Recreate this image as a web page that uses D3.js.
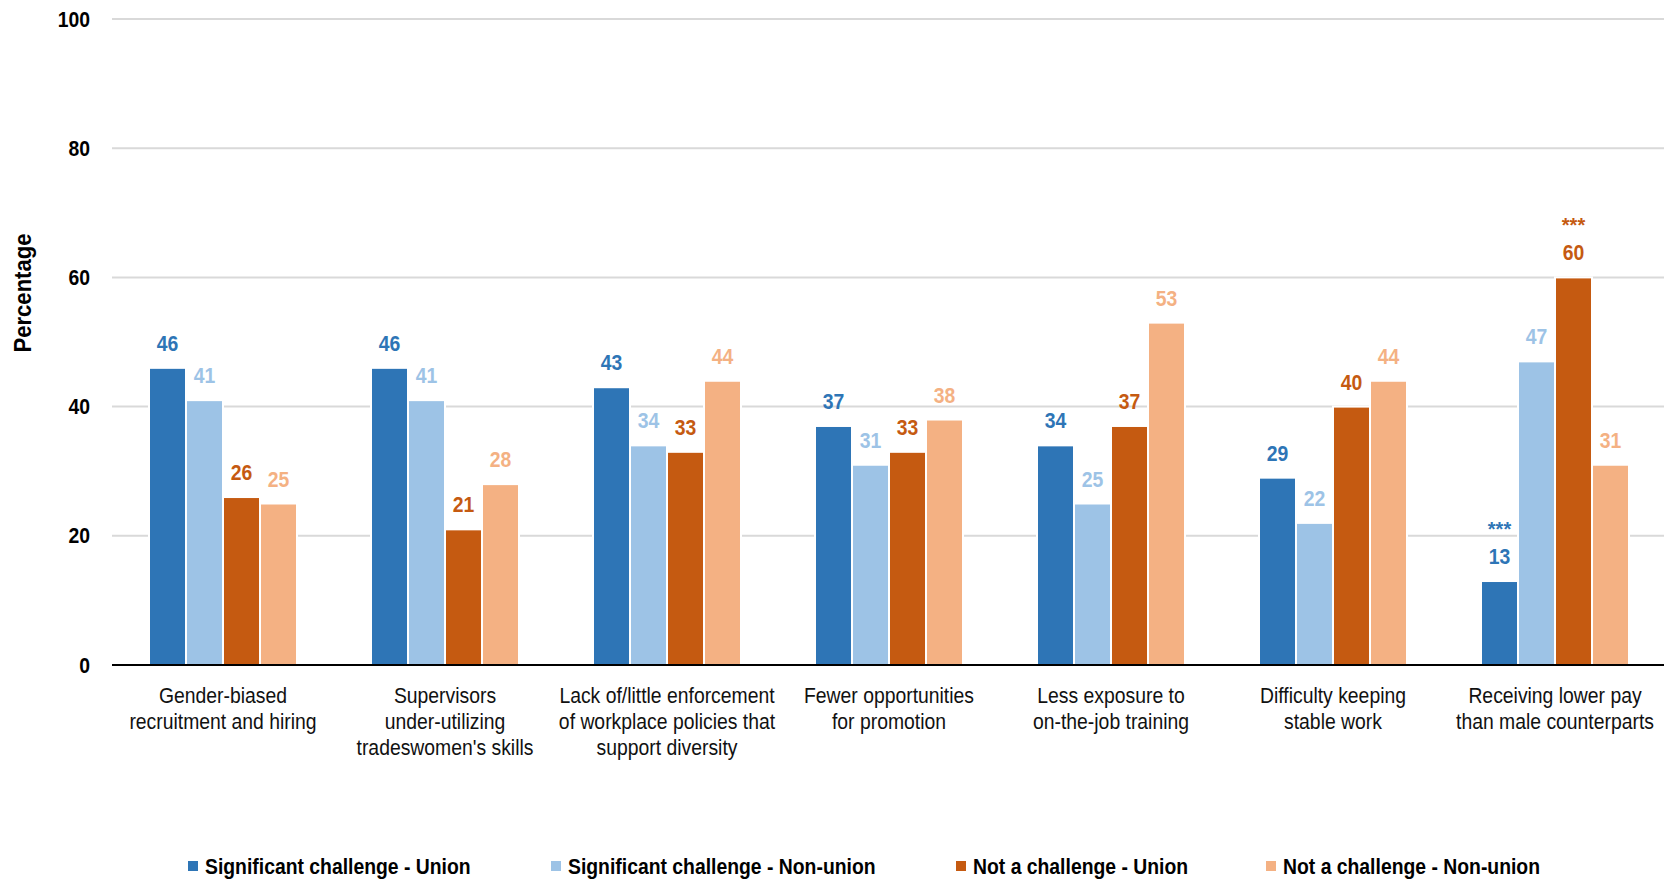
<!DOCTYPE html>
<html>
<head>
<meta charset="utf-8">
<script src="https://cdn.jsdelivr.net/npm/d3@7"></script>
<style>
  body { margin: 0; background: #fff; }
  text { font-family: "Liberation Sans Narrow", "Arial Narrow", "Liberation Sans", sans-serif; }
</style>
</head>
<body>
<div id="mychart"></div>
<script>
// chart data
var categories = [
  ["Gender-biased", "recruitment and hiring"],
  ["Supervisors", "under-utilizing", "tradeswomen's skills"],
  ["Lack of/little enforcement", "of workplace policies that", "support diversity"],
  ["Fewer opportunities", "for promotion"],
  ["Less exposure to", "on-the-job training"],
  ["Difficulty keeping", "stable work"],
  ["Receiving lower pay", "than male counterparts"]
];
var seriesNames = [
  "Significant challenge - Union",
  "Significant challenge - Non-union",
  "Not a challenge - Union",
  "Not a challenge - Non-union"
];
var sigUnion    = [46, 46, 43, 37, 34, 29, 13];
var sigNonUnion = [41, 41, 34, 31, 25, 22, 47];
var notUnion    = [26, 21, 33, 33, 37, 40, 60];
var notNonUnion = [25, 28, 44, 38, 53, 44, 31];
// significance markers (category index, series index)
var starMarks = [[6, 0], [6, 2]];
var yTicks = [0, 20, 40, 60, 80, 100];

var colors = ["#2E75B6", "#9DC3E6", "#C55A11", "#F4B183"];
var seriesValues = [sigUnion, sigNonUnion, notUnion, notNonUnion];

var W = 1665, H = 880;
var margin = {left: 112, right: 0, top: 19, bottom: 215};
var squeeze = 0.88; // no narrow font installed, so squeeze text horizontally

var svg = d3.select("#mychart")
  .append("svg")
    .attr("width", W)
    .attr("height", H);

var y = d3.scaleLinear().domain([0, 100]).range([H - margin.bottom, margin.top]);
var x0 = d3.scaleBand()
  .domain(d3.range(categories.length))
  .range([margin.left, margin.left + 222 * categories.length])
  .padding(0);
var slot = 37;
var x1 = d3.scaleBand()
  .domain(d3.range(seriesNames.length))
  .range([(x0.bandwidth() - slot * 4) / 2, (x0.bandwidth() + slot * 4) / 2]);

function place(x, y) {
  return "translate(" + x + "," + y + ") scale(" + squeeze + ",1)";
}

// gridlines
svg.append("g")
  .selectAll("line")
  .data(yTicks.filter(function(d) { return d > 0; }))
  .enter().append("line")
    .attr("x1", margin.left)
    .attr("x2", W - 1)
    .attr("y1", function(d) { return y(d); })
    .attr("y2", function(d) { return y(d); })
    .attr("stroke", "#d9d9d9")
    .attr("stroke-width", 2);

// y axis labels
var yAxis = d3.axisLeft(y).tickValues(yTicks).tickSize(0).tickPadding(22);
svg.append("g")
  .attr("transform", "translate(" + margin.left + ",0)")
  .call(yAxis)
  .call(function(g) { g.select(".domain").remove(); })
  .selectAll("text")
    .attr("x", null)
    .attr("transform", place(-22, 0))
    .attr("font-family", "Liberation Sans Narrow, Arial Narrow, Liberation Sans, sans-serif")
    .attr("font-size", 22)
    .attr("font-weight", "bold")
    .attr("fill", "#000");

// y axis title
svg.append("text")
  .attr("transform", "translate(31,293) rotate(-90) scale(0.96,1)")
  .attr("text-anchor", "middle")
  .attr("font-size", 23)
  .attr("font-weight", "bold")
  .attr("fill", "#000")
  .text("Percentage");

// bars
var groups = svg.append("g")
  .selectAll("g")
  .data(categories)
  .enter().append("g")
    .attr("transform", function(d, i) { return "translate(" + x0(i) + ",0)"; });

groups.selectAll("rect")
  .data(function(d, i) { return seriesValues.map(function(s, j) { return {s: j, v: s[i]}; }); })
  .enter().append("rect")
    .attr("x", function(d) { return x1(d.s); })
    .attr("width", x1.bandwidth())
    .attr("y", function(d) { return y(d.v); })
    .attr("height", function(d) { return y(0) - y(d.v); })
    .attr("fill", function(d) { return colors[d.s]; })
    .attr("stroke", "#fff")
    .attr("stroke-width", 2);

// value labels
groups.selectAll("text.val")
  .data(function(d, i) { return seriesValues.map(function(s, j) { return {s: j, v: s[i]}; }); })
  .enter().append("text")
    .attr("class", "val")
    .attr("transform", function(d) { return place(x1(d.s) + x1.bandwidth() / 2, y(d.v) - 17); })
    .attr("text-anchor", "middle")
    .attr("font-size", 22)
    .attr("font-weight", "bold")
    .attr("fill", function(d) { return colors[d.s]; })
    .text(function(d) { return d.v; });

// *** markers
svg.append("g")
  .selectAll("text")
  .data(starMarks)
  .enter().append("text")
    .attr("x", function(d) { return x0(d[0]) + x1(d[1]) + x1.bandwidth() / 2; })
    .attr("y", function(d) { return y(seriesValues[d[1]][d[0]]) - 45; })
    .attr("text-anchor", "middle")
    .attr("font-size", 20)
    .attr("font-weight", "bold")
    .attr("fill", function(d) { return colors[d[1]]; })
    .text("***");

// zero line
svg.append("line")
  .attr("x1", margin.left)
  .attr("x2", W - 1)
  .attr("y1", y(0))
  .attr("y2", y(0))
  .attr("stroke", "#000")
  .attr("stroke-width", 2);

// category labels
var catLabels = svg.append("g")
  .selectAll("text")
  .data(categories)
  .enter().append("text")
    .attr("transform", function(d, i) { return place(x0(i) + x0.bandwidth() / 2, 703); })
    .attr("text-anchor", "middle")
    .attr("font-size", 22)
    .attr("fill", "#111");
catLabels.selectAll("tspan")
  .data(function(d) { return d; })
  .enter().append("tspan")
    .attr("x", 0)
    .attr("dy", function(d, i) { return i === 0 ? 0 : 26; })
    .text(function(d) { return d; });

// legend
var legendX = [188, 551, 956, 1266];
var legend = svg.append("g")
  .selectAll("g")
  .data(seriesNames)
  .enter().append("g")
    .attr("transform", function(d, i) { return "translate(" + legendX[i] + ",866)"; });
legend.append("rect")
  .attr("x", 0)
  .attr("y", -5)
  .attr("width", 10)
  .attr("height", 10)
  .attr("fill", function(d, i) { return colors[i]; });
legend.append("text")
  .attr("transform", place(17, 8))
  .attr("font-size", 22)
  .attr("font-weight", "bold")
  .attr("fill", "#000")
  .text(function(d) { return d; });
</script>
</body>
</html>
